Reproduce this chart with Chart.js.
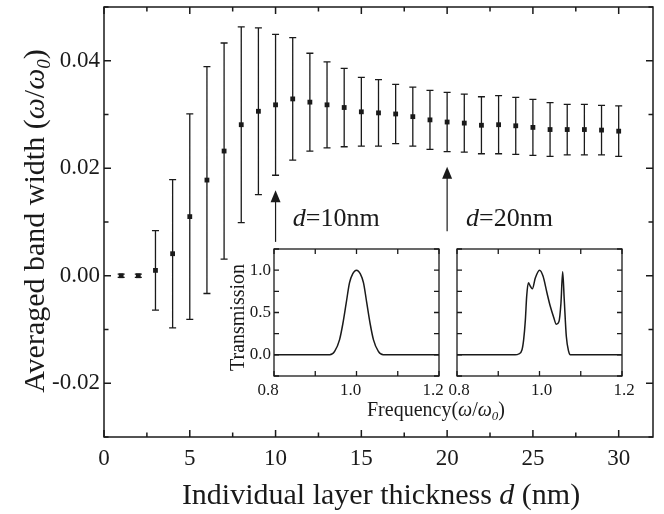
<!DOCTYPE html>
<html>
<head>
<meta charset="utf-8">
<script src="https://cdn.jsdelivr.net/npm/chart.js@4"></script>
<style>
  body { margin: 0; background: #fff; }
  #wrap { position: relative; width: 664px; height: 514px; }
  #wrap canvas { position: absolute; left: 0; top: 0; }
</style>
</head>
<body>
<div id="wrap">
  <canvas id="mainChart" width="664" height="514"></canvas>
  <canvas id="inset1" width="664" height="514"></canvas>
  <canvas id="inset2" width="664" height="514"></canvas>
</div>
<script>
// main plot: averaged band width vs layer thickness
const thickness = [1, 2, 3, 4, 5, 6, 7, 8, 9, 10, 11, 12, 13, 14, 15, 16, 17, 18, 19, 20, 21, 22, 23, 24, 25, 26, 27, 28, 29, 30];
const bandWidth = [0.0000, 0.0000, 0.0010, 0.0041, 0.0110, 0.0178, 0.0232, 0.0281, 0.0306, 0.0318,
                   0.0329, 0.0323, 0.0318, 0.0313, 0.0305, 0.0303, 0.0301, 0.0296, 0.0290, 0.0286,
                   0.0284, 0.0280, 0.0281, 0.0279, 0.0276, 0.0272, 0.0272, 0.0272, 0.0271, 0.0269];
const bandError = [0.0003, 0.0003, 0.0074, 0.0138, 0.0191, 0.0211, 0.0201, 0.0182, 0.0155, 0.0131,
                   0.0114, 0.0091, 0.0080, 0.0073, 0.0064, 0.0062, 0.0055, 0.0055, 0.0055, 0.0055,
                   0.0054, 0.0053, 0.0054, 0.0053, 0.0052, 0.0050, 0.0047, 0.0047, 0.0046, 0.0047];
const xTicks = [0, 5, 10, 15, 20, 25, 30];
const yTicks = [-0.02, 0.00, 0.02, 0.04];

// insets: transmission spectra for d=10nm and d=20nm
const freq10 = [0.80, 0.935, 0.947, 0.959, 0.967, 0.975, 0.983, 0.991, 1.000, 1.009, 1.017, 1.025, 1.033, 1.041, 1.053, 1.065, 1.20];
const trans10 = [0, 0, 0.04, 0.18, 0.37, 0.61, 0.85, 0.96, 1.00, 0.96, 0.85, 0.61, 0.37, 0.18, 0.04, 0, 0];
const freq20 = [0.80, 0.941, 0.9495, 0.9576, 0.9616, 0.9657, 0.9689, 0.973, 0.9778, 0.9826, 0.990, 1.000, 1.0085,
                1.0182, 1.0263, 1.0343, 1.0408, 1.047, 1.052, 1.0562, 1.060, 1.065, 1.0707, 1.0747, 1.20];
const trans20 = [0, 0, 0.01, 0.06, 0.18, 0.41, 0.69, 0.85, 0.81, 0.78, 0.91, 1.00, 0.93,
                 0.73, 0.57, 0.445, 0.36, 0.39, 0.61, 0.98, 0.65, 0.22, 0.04, 0, 0];
const insetXTicks = [0.8, 1.0, 1.2];
const insetYTicks = [0.0, 0.5, 1.0];

const SERIF = "'Liberation Serif', 'Times New Roman', serif";
const INK = "#1a1a1a";

// draw a line of text made of pieces with different fonts (italic, subscript)
function drawRich(ctx, parts, x, y, rotate) {
    ctx.save();
    ctx.translate(x, y);
    if (rotate) ctx.rotate(-Math.PI / 2);
    let total = 0;
    parts.forEach(p => { ctx.font = p.font; total += ctx.measureText(p.text).width; });
    let cx = -total / 2;
    ctx.fillStyle = INK;
    ctx.textBaseline = "alphabetic";
    ctx.textAlign = "left";
    parts.forEach(p => {
        ctx.font = p.font;
        ctx.fillText(p.text, cx, p.dy || 0);
        cx += ctx.measureText(p.text).width;
    });
    ctx.restore();
}

// box round the plot area with inward ticks on all four sides
function drawFrame(chart, xMajor, xMinor, yMajor, yMinor, majorLen, minorLen, lw) {
    const {ctx, chartArea: a, scales: {x, y}} = chart;
    ctx.save();
    ctx.strokeStyle = INK;
    ctx.lineWidth = lw;
    ctx.strokeRect(a.left, a.top, a.right - a.left, a.bottom - a.top);
    ctx.beginPath();
    const tx = (v, len) => {
        const px = x.getPixelForValue(v);
        ctx.moveTo(px, a.bottom); ctx.lineTo(px, a.bottom - len);
        ctx.moveTo(px, a.top); ctx.lineTo(px, a.top + len);
    };
    const ty = (v, len) => {
        const py = y.getPixelForValue(v);
        ctx.moveTo(a.left, py); ctx.lineTo(a.left + len, py);
        ctx.moveTo(a.right, py); ctx.lineTo(a.right - len, py);
    };
    xMajor.forEach(v => tx(v, majorLen));
    xMinor.forEach(v => tx(v, minorLen));
    yMajor.forEach(v => ty(v, majorLen));
    yMinor.forEach(v => ty(v, minorLen));
    ctx.stroke();
    ctx.restore();
}

const errorBars = {
    id: "errorBars",
    beforeDatasetsDraw(chart) {
        const {ctx, scales: {x, y}} = chart;
        ctx.save();
        ctx.strokeStyle = INK;
        ctx.lineWidth = 1.3;
        ctx.beginPath();
        thickness.forEach((t, i) => {
            const px = x.getPixelForValue(t);
            const top = y.getPixelForValue(bandWidth[i] + bandError[i]);
            const bot = y.getPixelForValue(bandWidth[i] - bandError[i]);
            ctx.moveTo(px, top); ctx.lineTo(px, bot);
            ctx.moveTo(px - 3.5, top); ctx.lineTo(px + 3.5, top);
            ctx.moveTo(px - 3.5, bot); ctx.lineTo(px + 3.5, bot);
        });
        ctx.stroke();
        ctx.restore();
    }
};

const mainDecor = {
    id: "mainDecor",
    afterDraw(chart) {
        const {ctx, scales: {x, y}} = chart;
        drawFrame(chart, [0, 5, 10, 15, 20, 25, 30], [2.5, 7.5, 12.5, 17.5, 22.5, 27.5],
                  [-0.02, 0, 0.02, 0.04], [-0.03, -0.01, 0.01, 0.03, 0.05], 7, 4.5, 1.5);

        // arrows pointing at d=10 and d=20
        [[10, 0.0063, 0.0159], [20, 0.0083, 0.0203]].forEach(([d, y0, y1]) => {
            const px = x.getPixelForValue(d);
            const pb = y.getPixelForValue(y0);
            const pt = y.getPixelForValue(y1);
            ctx.save();
            ctx.strokeStyle = INK;
            ctx.fillStyle = INK;
            ctx.lineWidth = 1.2;
            ctx.beginPath();
            ctx.moveTo(px, pb); ctx.lineTo(px, pt + 10);
            ctx.stroke();
            ctx.beginPath();
            ctx.moveTo(px, pt); ctx.lineTo(px - 5, pt + 12); ctx.lineTo(px + 5, pt + 12);
            ctx.closePath();
            ctx.fill();
            ctx.restore();
        });

        const lab = (d, text) => {
            const px = x.getPixelForValue(d);
            const py = y.getPixelForValue(0.00925);
            ctx.save();
            ctx.fillStyle = INK;
            ctx.textBaseline = "alphabetic";
            ctx.font = "italic 26px " + SERIF;
            ctx.fillText("d", px, py);
            const w = ctx.measureText("d").width;
            ctx.font = "26px " + SERIF;
            ctx.fillText(text, px + w, py);
            ctx.restore();
        };
        lab(11.0, "=10nm");
        lab(21.1, "=20nm");

        drawRich(ctx, [
            {text: "Averaged band width (", font: "30px " + SERIF},
            {text: "\u03c9", font: "italic 30px " + SERIF},
            {text: "/", font: "30px " + SERIF},
            {text: "\u03c9", font: "italic 30px " + SERIF},
            {text: "0", font: "italic 19px " + SERIF, dy: 6},
            {text: ")", font: "30px " + SERIF}
        ], 44, 221, true);

        drawRich(ctx, [
            {text: "Individual layer thickness ", font: "30px " + SERIF},
            {text: "d", font: "italic 30px " + SERIF},
            {text: " (nm)", font: "30px " + SERIF}
        ], 381, 504, false);
    }
};

new Chart(document.getElementById("mainChart"), {
    type: "scatter",
    data: {
        datasets: [{
            data: thickness.map((t, i) => ({x: t, y: bandWidth[i]})),
            pointStyle: "rect",
            pointRadius: 3.4,
            backgroundColor: INK,
            borderWidth: 0
        }]
    },
    options: {
        responsive: false,
        animation: false,
        devicePixelRatio: 1,
        layout: {padding: {top: 7, right: 11, left: 0, bottom: 0}},
        plugins: {legend: {display: false}, tooltip: {enabled: false}},
        scales: {
            x: {
                type: "linear",
                min: 0,
                max: 32,
                grid: {display: false, drawTicks: false},
                border: {display: false},
                afterBuildTicks: s => { s.ticks = xTicks.map(v => ({value: v})); },
                afterFit: s => { s.height = 77; s.paddingLeft = 0; s.paddingRight = 0; },
                ticks: {font: {family: SERIF, size: 23}, color: INK, padding: 8, maxRotation: 0,
                        callback: v => String(v)}
            },
            y: {
                min: -0.03,
                max: 0.05,
                grid: {display: false, drawTicks: false},
                border: {display: false},
                afterBuildTicks: s => { s.ticks = yTicks.map(v => ({value: v})); },
                afterFit: s => { s.width = 104; s.paddingTop = 0; s.paddingBottom = 0; },
                ticks: {font: {family: SERIF, size: 23}, color: INK, padding: 4,
                        callback: v => v.toFixed(2)}
            }
        }
    },
    plugins: [errorBars, mainDecor]
});

function insetChart(id, freq, trans, pad, showY, labelShift) {
    const decor = {
        id: "insetDecor",
        afterDraw(chart) {
            const {ctx, chartArea: a, scales: {x, y}} = chart;
            drawFrame(chart, insetXTicks, [0.9, 1.1], insetYTicks, [-0.25, 0.25, 0.75, 1.25], 5, 5, 1.3);
            ctx.save();
            ctx.fillStyle = INK;
            ctx.font = "17px " + SERIF;
            ctx.textAlign = "center";
            ctx.textBaseline = "middle";
            insetXTicks.forEach(v => ctx.fillText(v.toFixed(1), x.getPixelForValue(v) + labelShift, a.bottom + 15));
            if (showY) {
                ctx.textAlign = "right";
                insetYTicks.forEach(v => ctx.fillText(v.toFixed(1), a.left - 3, y.getPixelForValue(v)));
                ctx.textAlign = "center";
                ctx.translate(a.left - 35, (a.top + a.bottom) / 2 + 5);
                ctx.rotate(-Math.PI / 2);
                ctx.font = "20px " + SERIF;
                ctx.fillText("Transmission", 0, 0);
            } else {
                drawRich(ctx, [
                    {text: "Frequency(", font: "20px " + SERIF},
                    {text: "\u03c9", font: "italic 20px " + SERIF},
                    {text: "/", font: "20px " + SERIF},
                    {text: "\u03c9", font: "italic 20px " + SERIF},
                    {text: "0", font: "italic 13px " + SERIF, dy: 4},
                    {text: ")", font: "20px " + SERIF}
                ], 436, 416, false);
            }
            ctx.restore();
        }
    };
    new Chart(document.getElementById(id), {
        type: "scatter",
        data: {
            datasets: [{
                data: freq.map((f, i) => ({x: f, y: trans[i]})),
                showLine: true,
                pointRadius: 0,
                borderColor: INK,
                borderWidth: 1.5,
                cubicInterpolationMode: "monotone"
            }]
        },
        options: {
            responsive: false,
            animation: false,
            devicePixelRatio: 1,
            layout: {padding: pad},
            plugins: {legend: {display: false}, tooltip: {enabled: false}},
            scales: {
                x: {type: "linear", min: 0.8, max: 1.2, display: false},
                y: {min: -0.25, max: 1.25, display: false}
            }
        },
        plugins: [decor]
    });
}

insetChart("inset1", freq10, trans10, {left: 274, right: 225, top: 249, bottom: 138}, true, -6);
insetChart("inset2", freq20, trans20, {left: 457, right: 42, top: 249, bottom: 138}, false, 2);
</script>
</body>
</html>
